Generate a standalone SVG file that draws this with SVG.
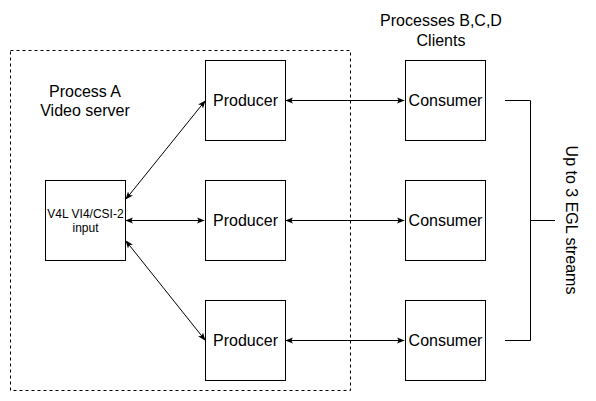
<svg xmlns="http://www.w3.org/2000/svg" width="596" height="401" viewBox="0 0 596 401">
<defs>
<marker id="ah" viewBox="0 0 10 10" refX="9" refY="5" markerWidth="8" markerHeight="8" markerUnits="userSpaceOnUse" orient="auto-start-reverse">
<path d="M0,1 L10,5 L0,9 L2.5,5 Z" fill="#000"/>
</marker>
</defs>
<style>
.box{fill:#fff;stroke:#000;stroke-width:1}
.t{font-family:"Liberation Sans",Arial,sans-serif;font-size:16px;fill:#000;text-anchor:middle}
.s{font-family:"Liberation Sans",Arial,sans-serif;font-size:12px;fill:#000;text-anchor:middle}
.c{stroke:#000;stroke-width:1;fill:none;marker-start:url(#ah);marker-end:url(#ah)}
</style>
<rect width="596" height="401" fill="#fff"/>
<g id="processA">
<rect x="10.5" y="50.5" width="340" height="340" fill="none" stroke="#000" stroke-dasharray="3,3"/>
<text class="t" x="85" y="97">Process A</text>
<text class="t" x="85" y="116">Video server</text>
</g>
<g id="clientsLabel">
<text class="t" x="441" y="26">Processes B,C,D</text>
<text class="t" x="441" y="46">Clients</text>
</g>
<g id="connectors">
<line class="c" x1="286" y1="100.5" x2="404" y2="100.5"/>
<line class="c" x1="286" y1="220.5" x2="404" y2="220.5"/>
<line class="c" x1="286" y1="340.5" x2="404" y2="340.5"/>
<line class="c" x1="126" y1="220.5" x2="204" y2="220.5"/>
<line class="c" x1="126" y1="199" x2="205" y2="101"/>
<line class="c" x1="126" y1="241" x2="205" y2="340"/>
<path d="M505,100.5 H530.5 V340.5 H505 M530.5,220.5 H555" stroke="#000" fill="none"/>
</g>
<g id="v4l">
<rect class="box" x="45.5" y="180.5" width="80" height="80"/>
<text class="s" x="85.5" y="218">V4L VI4/CSI-2</text>
<text class="s" x="85.5" y="232">input</text>
</g>
<g id="producer1"><rect class="box" x="205.5" y="60.5" width="80" height="80"/><text class="t" x="245.5" y="106">Producer</text></g>
<g id="producer2"><rect class="box" x="205.5" y="180.5" width="80" height="80"/><text class="t" x="245.5" y="226">Producer</text></g>
<g id="producer3"><rect class="box" x="205.5" y="300.5" width="80" height="80"/><text class="t" x="245.5" y="346">Producer</text></g>
<g id="consumer1"><rect class="box" x="405.5" y="60.5" width="80" height="80"/><text class="t" x="445.5" y="106">Consumer</text></g>
<g id="consumer2"><rect class="box" x="405.5" y="180.5" width="80" height="80"/><text class="t" x="445.5" y="226">Consumer</text></g>
<g id="consumer3"><rect class="box" x="405.5" y="300.5" width="80" height="80"/><text class="t" x="445.5" y="346">Consumer</text></g>
<g id="streamsLabel">
<text class="t" transform="translate(566,220) rotate(90)" x="0" y="0">Up to 3 EGL streams</text>
</g>
</svg>
